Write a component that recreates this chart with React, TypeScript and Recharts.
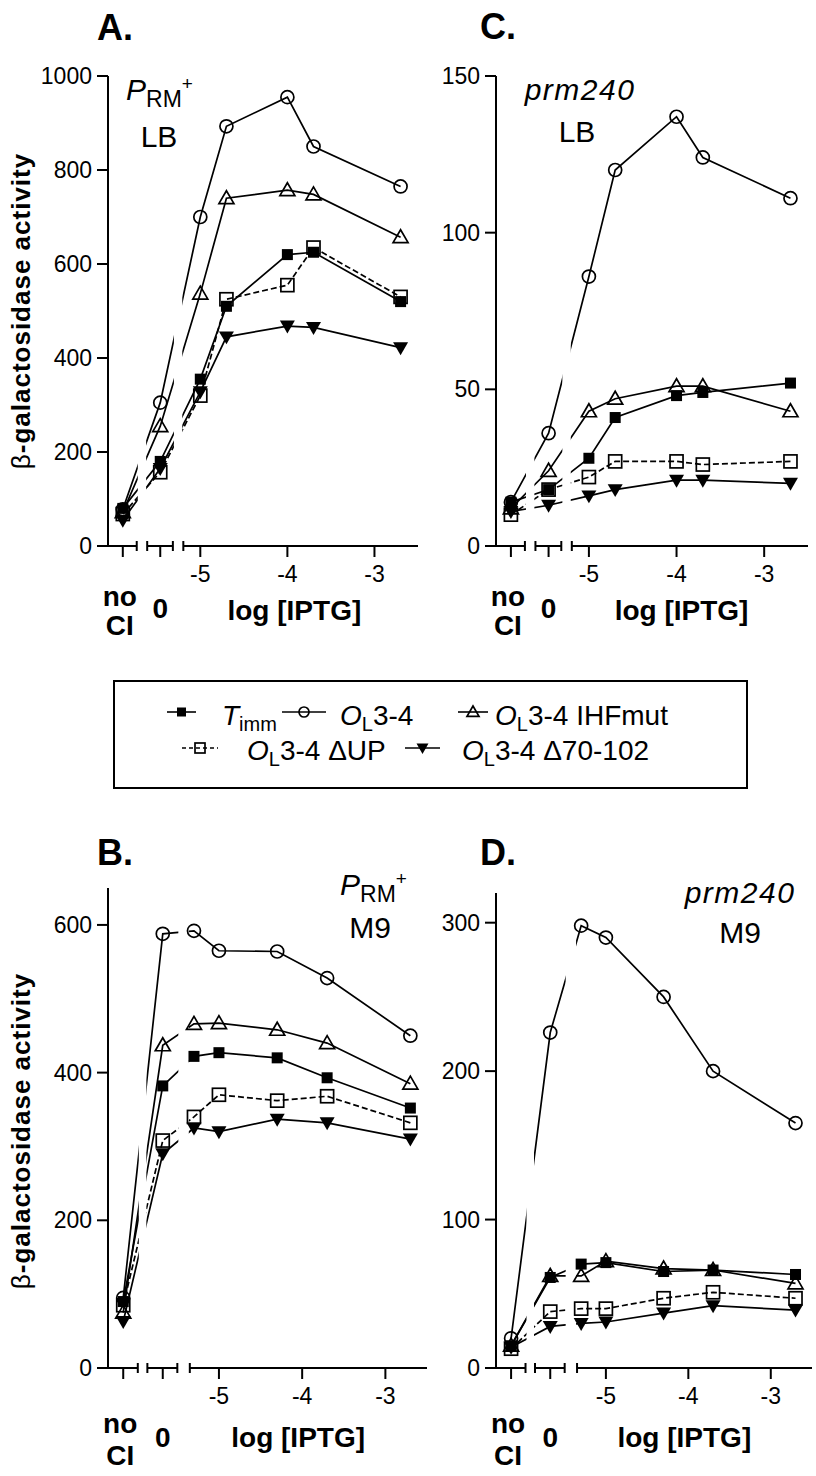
import React from 'react';
import { LineChart, Line, XAxis, YAxis, ReferenceArea, ReferenceLine } from 'recharts';

const FONT = '"Liberation Sans", Arial, Helvetica, sans-serif';

// ---------- categories ----------
const seriesNames = ['T_imm', 'O_L3-4', 'O_L3-4 IHFmut', 'O_L3-4 ΔUP', 'O_L3-4 Δ70-102'];
const xCategoryLabels = ['no CI', '0', 'log [IPTG]'];
const topLogIPTG = [-5, -4.7, -4, -3.7, -2.7]; // panels A, C
const bottomLogIPTG = [-5.3, -5, -4.3, -3.7, -2.7]; // panels B, D
const xTickValues = [-5, -4, -3];
const ticksA = [0, 200, 400, 600, 800, 1000];
const ticksC = [0, 50, 100, 150];
const ticksB = [0, 200, 400, 600];
const ticksD = [0, 100, 200, 300];

// ---------- values: [no CI, 0, IPTG...] ----------
// A: PRM+ LB
const aTimm = [80, 180, 355, 510, 620, 625, 520];
const aOL = [78, 305, 700, 893, 955, 850, 765];
const aIHF = [72, 255, 537, 740, 757, 748, 657];
const aUP = [68, 157, 320, 525, 555, 635, 530];
const aD70 = [55, 165, 328, 445, 468, 465, 422];
// C: prm240 LB
const cTimm = [14, 18, 28, 41, 48, 49, 52];
const cOL = [14, 36, 86, 120, 137, 124, 111];
const cIHF = [12, 24, 43, 47, 51, 51, 43];
const cUP = [10, 18, 22, 27, 27, 26, 27];
const cD70 = [11, 13, 16, 18, 21, 21, 20];
// B: PRM+ M9
const bTimm = [90, 382, 422, 427, 420, 393, 352];
const bOL = [95, 588, 592, 565, 564, 528, 450];
const bIHF = [75, 437, 466, 467, 458, 440, 385];
const bUP = [85, 308, 340, 370, 362, 368, 332];
const bD70 = [63, 290, 325, 320, 337, 332, 310];
// D: prm240 M9
const dTimm = [15, 61, 70, 71, 65, 66, 63];
const dOL = [20, 226, 298, 290, 250, 200, 165];
const dIHF = [15, 62, 62, 72, 67, 66, 57];
const dUP = [13, 38, 40, 40, 47, 51, 47];
const dD70 = [14, 28, 30, 31, 37, 42, 39];

// ---------- broken axis layout (axis coordinate of the no-CI and 0 slots) ----------
const topAxis = { min: -6.06, max: -2.5, noCI: -5.89, zero: -5.46, breaks: [-5.73, -5.61, -5.315, -5.195] };
const bottomAxis = { min: -6.333, max: -2.5, noCI: -6.15, zero: -5.675, breaks: [-5.975, -5.86, -5.5, -5.35] };

const buildRows = (axis: any, logs: number[], s: number[][]) => {
  const xs = [axis.noCI, axis.zero, ...logs];
  return xs.map((x, i) => ({ x, timm: s[0][i], ol: s[1][i], ihf: s[2][i], up: s[3][i], d70: s[4][i] }));
};

// ---------- markers ----------
const SqFilled = ({ cx, cy, s = 11 }: any) => <rect x={cx - s / 2} y={cy - s / 2} width={s} height={s} fill="#000" />;
const CircOpen = ({ cx, cy, r = 6.5 }: any) => <circle cx={cx} cy={cy} r={r} fill="none" stroke="#000" strokeWidth={1.7} />;
const TriOpen = ({ cx, cy, w = 7.5 }: any) => (
  <polygon points={`${cx},${cy - w} ${cx - w},${cy + w * 0.73} ${cx + w},${cy + w * 0.73}`} fill="none" stroke="#000" strokeWidth={1.7} strokeLinejoin="miter" />
);
const SqOpen = ({ cx, cy, s = 13 }: any) => <rect x={cx - s / 2} y={cy - s / 2} width={s} height={s} fill="none" stroke="#000" strokeWidth={1.7} />;
const TriDown = ({ cx, cy, w = 7.5 }: any) => (
  <polygon points={`${cx - w},${cy - w * 0.73} ${cx + w},${cy - w * 0.73} ${cx},${cy + w}`} fill="#000" />
);

const dotFn = (Comp: any) => (p: any) => <Comp key={`d${p.index}`} cx={p.cx} cy={p.cy} />;

const seriesDefs = [
  { key: 'd70', dot: TriDown, dash: undefined },
  { key: 'up', dot: SqOpen, dash: '6 3' },
  { key: 'ihf', dot: TriOpen, dash: undefined },
  { key: 'ol', dot: CircOpen, dash: undefined },
  { key: 'timm', dot: SqFilled, dash: undefined },
];

// ---------- x axis tick ----------
const makeTick = (axis: any, lab: any) => (props: any) => {
  const { x, y, payload } = props;
  const v = payload.value;
  if (axis.breaks.includes(v)) {
    return <line key={`b${v}`} x1={x} x2={x} y1={y - 5} y2={y + 5} stroke="#000" strokeWidth={2} />;
  }
  const els: any[] = [<line key="t" x1={x} x2={x} y1={y} y2={y + 11} stroke="#000" strokeWidth={2} />];
  const bold = { fontFamily: FONT, fontWeight: 'bold', fontSize: 28, fill: '#000', textAnchor: 'middle' } as any;
  if (v === axis.noCI) {
    els.push(<text key="n" x={x - 3} y={y + lab.no} {...bold}>no</text>);
    els.push(<text key="c" x={x - 3} y={y + lab.ci} {...bold}>CI</text>);
  } else if (v === axis.zero) {
    els.push(<text key="z" x={x} y={y + lab.zero} {...bold}>{xCategoryLabels[1]}</text>);
  } else {
    els.push(
      <text key="l" x={x} y={y + 36} fontFamily={FONT} fontSize={23} fill="#000" textAnchor="middle">{v}</text>
    );
    if (v === -4) {
      els.push(<text key="g" x={x + lab.logDx} y={y + lab.log} {...bold}>{xCategoryLabels[2]}</text>);
    }
  }
  return <g key={`t${v}`}>{els}</g>;
};

const Panel = ({ left, top, width, height, margin, yWidth, yDomain, yTicks, axis, logs, series, lab }: any) => {
  const data = buildRows(axis, logs, series);
  const ticks = [axis.noCI, axis.breaks[0], axis.breaks[1], axis.zero, axis.breaks[2], axis.breaks[3], ...xTickValues];
  const eps = 0.012;
  return (
    <div style={{ position: 'absolute', left, top, width, height }}>
      <LineChart width={width} height={height} data={data} margin={margin}>
        <XAxis
          type="number"
          dataKey="x"
          domain={[axis.min, axis.max]}
          ticks={ticks}
          interval={0}
          axisLine={false}
          tickLine={false}
          tickSize={0}
          tickMargin={0}
          height={60}
          allowDataOverflow
          tick={makeTick(axis, lab)}
        />
        <YAxis
          type="number"
          domain={yDomain}
          ticks={yTicks}
          interval={0}
          width={yWidth}
          allowDataOverflow
          axisLine={{ stroke: '#000', strokeWidth: 2 }}
          tickLine={{ stroke: '#000', strokeWidth: 2 }}
          tickSize={11}
          tickMargin={5}
          tick={{ fill: '#000', fontSize: 23, fontFamily: FONT }}
        />
        {seriesDefs.map((s) => (
          <Line
            key={s.key}
            type="linear"
            dataKey={s.key}
            stroke="#000"
            strokeWidth={1.7}
            strokeDasharray={s.dash}
            dot={dotFn(s.dot)}
            activeDot={false}
            isAnimationActive={false}
          />
        ))}
        <ReferenceArea x1={axis.breaks[0] + eps} x2={axis.breaks[1] - eps} y1={yDomain[0]} y2={yDomain[1]} fill="#fff" fillOpacity={1} stroke="none" zIndex={450} />
        <ReferenceArea x1={axis.breaks[2] + eps} x2={axis.breaks[3] - eps} y1={yDomain[0]} y2={yDomain[1]} fill="#fff" fillOpacity={1} stroke="none" zIndex={450} />
        <ReferenceLine segment={[{ x: axis.min, y: 0 }, { x: axis.breaks[0], y: 0 }]} stroke="#000" strokeWidth={2} zIndex={460} />
        <ReferenceLine segment={[{ x: axis.breaks[1], y: 0 }, { x: axis.breaks[2], y: 0 }]} stroke="#000" strokeWidth={2} zIndex={460} />
        <ReferenceLine segment={[{ x: axis.breaks[3], y: 0 }, { x: axis.max, y: 0 }]} stroke="#000" strokeWidth={2} zIndex={460} />
      </LineChart>
    </div>
  );
};

const txt = { fontFamily: FONT, fill: '#000' } as any;

const LegendItem = ({ x1, x2, y, Marker, dash, size }: any) => (
  <g>
    <line x1={x1} x2={x2} y1={y} y2={y} stroke="#000" strokeWidth={1.6} strokeDasharray={dash} />
    <Marker cx={(x1 + x2) / 2} cy={y} {...size} />
  </g>
);

const OL = ({ x, y, rest }: any) => (
  <text x={x} y={y} {...txt} fontSize={28}>
    <tspan fontStyle="italic">O</tspan>
    <tspan fontSize={20} dy={6}>L</tspan>
    <tspan dy={-6}>{rest}</tspan>
  </text>
);

const Overlay = () => (
  <svg width={816} height={1476} style={{ position: 'absolute', left: 0, top: 0, pointerEvents: 'none' }}>
    {/* panel letters */}
    <text x={97} y={40} {...txt} fontSize={36} fontWeight="bold">A.</text>
    <text x={480} y={39} {...txt} fontSize={36} fontWeight="bold">C.</text>
    <text x={97} y={865} {...txt} fontSize={36} fontWeight="bold">B.</text>
    <text x={480} y={865} {...txt} fontSize={36} fontWeight="bold">D.</text>

    {/* y labels */}
    <text transform="translate(21,311) rotate(-90)" textAnchor="middle" dominantBaseline="central" {...txt} fontSize={26} fontWeight="bold" letterSpacing={1}>
      <tspan fontWeight="normal">β</tspan>-galactosidase activity
    </text>
    <text transform="translate(21,1131) rotate(-90)" textAnchor="middle" dominantBaseline="central" {...txt} fontSize={26} fontWeight="bold" letterSpacing={1}>
      <tspan fontWeight="normal">β</tspan>-galactosidase activity
    </text>

    {/* strain / medium annotations */}
    <text x={126} y={100} {...txt} fontSize={30}>
      <tspan fontStyle="italic">P</tspan>
      <tspan fontSize={23} dy={7}>RM</tspan>
      <tspan fontSize={19} dy={-17}>+</tspan>
    </text>
    <text x={159} y={147} {...txt} fontSize={30} textAnchor="middle">LB</text>
    <text x={580} y={100} {...txt} fontSize={30} fontStyle="italic" textAnchor="middle" letterSpacing={1.5}>prm240</text>
    <text x={577} y={142} {...txt} fontSize={30} textAnchor="middle">LB</text>
    <text x={340} y={895} {...txt} fontSize={30}>
      <tspan fontStyle="italic">P</tspan>
      <tspan fontSize={23} dy={7}>RM</tspan>
      <tspan fontSize={19} dy={-17}>+</tspan>
    </text>
    <text x={370} y={938} {...txt} fontSize={30} textAnchor="middle">M9</text>
    <text x={740} y={903} {...txt} fontSize={30} fontStyle="italic" textAnchor="middle" letterSpacing={1.5}>prm240</text>
    <text x={740} y={943} {...txt} fontSize={30} textAnchor="middle">M9</text>

    {/* legend */}
    <rect x={114} y={681} width={633} height={107} fill="none" stroke="#000" strokeWidth={2} />
    <LegendItem x1={167} x2={196} y={712} Marker={SqFilled} size={{ s: 9 }} />
    <text x={222} y={725} {...txt} fontSize={28}>
      <tspan fontStyle="italic">T</tspan>
      <tspan fontSize={20} dy={6}>imm</tspan>
    </text>
    <LegendItem x1={282} x2={326} y={712} Marker={CircOpen} size={{ r: 5 }} />
    <OL x={340} y={725} rest="3-4" />
    <LegendItem x1={458} x2={488} y={712} Marker={TriOpen} size={{ w: 6 }} />
    <OL x={495} y={725} rest="3-4 IHFmut" />
    <LegendItem x1={182} x2={218} y={748} Marker={SqOpen} size={{ s: 10 }} dash="4 3" />
    <OL x={247} y={760} rest="3-4 ΔUP" />
    <LegendItem x1={405} x2={440} y={748} Marker={TriDown} size={{ w: 6 }} />
    <OL x={462} y={760} rest="3-4 Δ70-102" />
  </svg>
);

const labTop = { no: 60, ci: 89, zero: 72, log: 74 };
const labBottom = { no: 65, ci: 97, zero: 79, log: 79 };

export default function App() {
  return (
    <div style={{ position: 'absolute', left: 0, top: 0, width: 816, height: 1476, background: '#fff', overflow: 'hidden' }}>
      <Panel
        left={0} top={0} width={430} height={650}
        margin={{ top: 76, right: 12, left: 0, bottom: 44 }}
        yWidth={108} yDomain={[0, 1000]} yTicks={ticksA}
        axis={topAxis} logs={topLogIPTG}
        series={[aTimm, aOL, aIHF, aUP, aD70]}
        lab={{ ...labTop, logDx: 7 }}
      />
      <Panel
        left={400} top={0} width={416} height={650}
        margin={{ top: 76, right: 8, left: 0, bottom: 44 }}
        yWidth={96} yDomain={[0, 150]} yTicks={ticksC}
        axis={topAxis} logs={topLogIPTG}
        series={[cTimm, cOL, cIHF, cUP, cD70]}
        lab={{ ...labTop, logDx: 5 }}
      />
      <Panel
        left={0} top={780} width={440} height={696}
        margin={{ top: 108, right: 13, left: 0, bottom: 48 }}
        yWidth={108} yDomain={[0, 650]} yTicks={ticksB}
        axis={bottomAxis} logs={bottomLogIPTG}
        series={[bTimm, bOL, bIHF, bUP, bD70]}
        lab={{ ...labBottom, logDx: -4 }}
      />
      <Panel
        left={400} top={780} width={416} height={696}
        margin={{ top: 113, right: 4, left: 0, bottom: 48 }}
        yWidth={96} yDomain={[0, 320]} yTicks={ticksD}
        axis={bottomAxis} logs={bottomLogIPTG}
        series={[dTimm, dOL, dIHF, dUP, dD70]}
        lab={{ ...labBottom, logDx: -4 }}
      />
      <Overlay />
    </div>
  );
}
